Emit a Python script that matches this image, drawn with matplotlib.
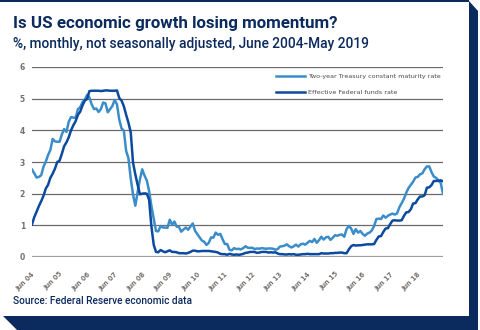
import numpy as np
import matplotlib.pyplot as plt
from matplotlib.patches import Polygon, Rectangle

# monthly averages, June 2004 - May 2019
treasury_2y = [
    2.76, 2.64, 2.51, 2.53, 2.58, 2.85, 3.01,
    3.22, 3.38, 3.73, 3.65, 3.64, 3.64, 3.87, 4.04, 3.95, 4.27, 4.42, 4.40,
    4.40, 4.67, 4.73, 4.89, 4.97, 5.12, 5.04, 4.82, 4.67, 4.69, 4.58, 4.67,
    4.88, 4.85, 4.57, 4.67, 4.77, 4.96, 4.82, 4.34, 4.06, 3.99, 3.35, 3.12,
    2.48, 1.97, 1.62, 2.05, 2.45, 2.77, 2.57, 2.42, 2.08, 1.61, 1.21, 0.82,
    0.81, 0.98, 0.93, 0.93, 0.92, 1.18, 1.02, 1.12, 0.96, 0.95, 0.80, 0.87,
    0.93, 0.86, 0.96, 1.06, 0.83, 0.72, 0.62, 0.52, 0.48, 0.38, 0.45, 0.62,
    0.61, 0.77, 0.70, 0.73, 0.56, 0.41, 0.41, 0.23, 0.21, 0.28, 0.25, 0.26,
    0.24, 0.28, 0.34, 0.29, 0.29, 0.29, 0.25, 0.27, 0.26, 0.28, 0.27, 0.26,
    0.27, 0.27, 0.26, 0.23, 0.25, 0.33, 0.34, 0.36, 0.40, 0.34, 0.30, 0.34,
    0.39, 0.33, 0.40, 0.42, 0.39, 0.45, 0.51, 0.47, 0.57, 0.45, 0.53, 0.64,
    0.55, 0.62, 0.64, 0.54, 0.61, 0.69, 0.67, 0.70, 0.71, 0.64, 0.88, 0.98,
    0.90, 0.73, 0.88, 0.77, 0.82, 0.73, 0.67, 0.74, 0.77, 0.84, 0.98, 1.20,
    1.21, 1.20, 1.31, 1.24, 1.30, 1.34, 1.37, 1.34, 1.38, 1.57, 1.70, 1.84,
    2.03, 2.18, 2.28, 2.38, 2.51, 2.53, 2.61, 2.64, 2.77, 2.86, 2.86, 2.68,
    2.54, 2.50, 2.41, 2.34, 2.00,
]
fed_funds = [
    1.03, 1.26, 1.43, 1.61, 1.76, 1.93, 2.16,
    2.28, 2.50, 2.63, 2.79, 3.00, 3.04, 3.26, 3.50, 3.62, 3.78, 4.00, 4.16,
    4.29, 4.49, 4.59, 4.79, 4.94, 4.99, 5.24, 5.25, 5.25, 5.25, 5.25, 5.24,
    5.25, 5.26, 5.26, 5.25, 5.25, 5.25, 5.26, 5.02, 4.94, 4.76, 4.49, 4.24,
    3.94, 2.98, 2.61, 2.28, 1.98, 2.00, 2.01, 2.00, 1.81, 0.97, 0.39, 0.16,
    0.15, 0.22, 0.18, 0.15, 0.18, 0.21, 0.16, 0.16, 0.15, 0.12, 0.12, 0.12,
    0.11, 0.13, 0.16, 0.20, 0.20, 0.18, 0.18, 0.19, 0.19, 0.19, 0.19, 0.18,
    0.17, 0.16, 0.14, 0.10, 0.09, 0.09, 0.07, 0.10, 0.08, 0.07, 0.08, 0.07,
    0.08, 0.10, 0.13, 0.14, 0.16, 0.16, 0.16, 0.13, 0.14, 0.16, 0.16, 0.16,
    0.14, 0.15, 0.14, 0.15, 0.11, 0.09, 0.09, 0.08, 0.08, 0.09, 0.08, 0.09,
    0.07, 0.07, 0.08, 0.09, 0.09, 0.10, 0.09, 0.09, 0.09, 0.09, 0.09, 0.12,
    0.11, 0.11, 0.11, 0.12, 0.12, 0.13, 0.13, 0.14, 0.14, 0.12, 0.12, 0.24,
    0.34, 0.38, 0.36, 0.37, 0.37, 0.38, 0.39, 0.40, 0.40, 0.40, 0.41, 0.54,
    0.65, 0.66, 0.79, 0.90, 0.91, 1.04, 1.15, 1.16, 1.15, 1.15, 1.16, 1.30,
    1.41, 1.42, 1.51, 1.69, 1.70, 1.82, 1.91, 1.91, 1.95, 2.19, 2.20, 2.27,
    2.40, 2.40, 2.41, 2.42, 2.39,
]
year_labels = ["Jun %02d" % y for y in range(4, 19)]
y_ticks = [0, 1, 2, 3, 4, 5, 6]

NAVY = "#0b2a5e"
LIGHT = "#3b8dc9"
DARK = "#0b4a9e"
narrow = ["Liberation Sans Narrow", "DejaVu Sans"]

W, H = 480, 330
fig = plt.figure(figsize=(W / 100, H / 100), dpi=100)

# card frame: thin top line, thick right and bottom edges
fig.patches.append(Rectangle((0, (H - 1.5) / H), 469 / W, 1.5 / H,
                             transform=fig.transFigure, color=NAVY, lw=0))
fig.patches.append(Polygon([(469 / W, 329 / H), (478 / W, 319 / H),
                            (478 / W, 0), (469 / W, 0)],
                           transform=fig.transFigure, color=NAVY, lw=0))
fig.patches.append(Polygon([(3 / W, 14 / H), (478 / W, 14 / H),
                            (478 / W, 0), (17 / W, 0)],
                           transform=fig.transFigure, color=NAVY, lw=0))

ax = fig.add_axes([32 / W, 1 - 257 / H, 411 / W, 190 / H])
x = np.arange(len(fed_funds))

for v in y_ticks[1:]:
    ax.axhline(v, color="#6a6a6a", lw=0.9, zorder=1)
ax.axhline(0, color="#a0a0a0", lw=1.6, zorder=1)

ax.plot(x, treasury_2y, color=LIGHT, lw=1.8, zorder=3,
        label="Two-year Treasury constant maturity rate")
ax.plot(x, fed_funds, color=DARK, lw=1.8, zorder=4,
        label="Effective Federal funds rate")

ax.set_xlim(0, len(fed_funds) - 1)
ax.set_ylim(0, 6)
ax.set_yticks(y_ticks)
ax.set_yticklabels([str(v) for v in y_ticks], family=narrow, fontsize=5.5,
                   weight="bold", color="#75706c")
ax.set_xticks(np.arange(0, 12 * len(year_labels), 12))
ax.set_xticklabels(year_labels, rotation=45, ha="right", va="top",
                   rotation_mode="anchor", family=narrow, fontsize=4.8,
                   weight="bold", color="#75706c")
ax.tick_params(axis="x", length=0, pad=10)
ax.tick_params(axis="y", length=0, pad=5)
for s in ax.spines.values():
    s.set_visible(False)

leg = ax.legend(loc="upper right", bbox_to_anchor=(1.008, 0.995), frameon=False,
                prop={"family": narrow, "size": 4.6}, handlelength=4.5,
                handletextpad=0.4, labelspacing=1.6, labelcolor="#4a4a4a")

fig.text(13 / W, 1 - 28 / H, "Is US economic growth losing momentum?",
         family="Roboto", weight="bold", fontsize=12.2, color=NAVY,
         va="baseline")
fig.text(13 / W, 1 - 48 / H,
         "%, monthly, not seasonally adjusted, June 2004-May 2019",
         family="Roboto", weight="medium", fontsize=9.9, color=NAVY,
         va="baseline")
fig.text(13 / W, 1 - 304 / H, "Source: Federal Reserve economic data",
         family="Roboto", weight="medium", fontsize=7.3, color=NAVY,
         va="baseline")

fig.savefig("out.png", dpi=100)
